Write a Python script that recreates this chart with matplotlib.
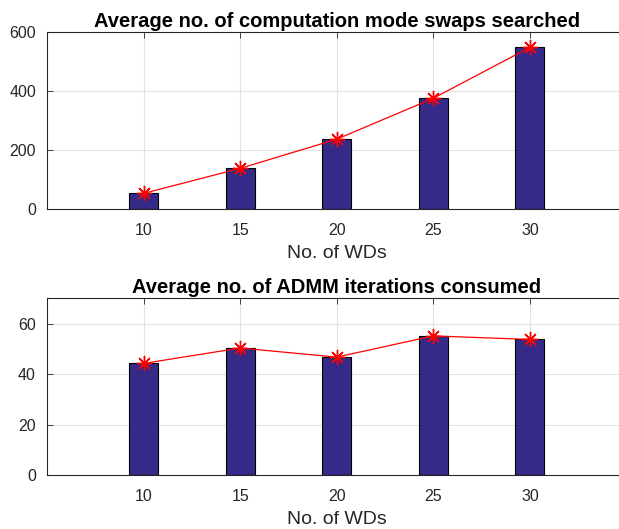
import matplotlib
matplotlib.use("Agg")
import matplotlib.pyplot as plt

plt.rcParams['font.family'] = ['Liberation Sans', 'DejaVu Sans']

wds = [10, 15, 20, 25, 30]
swaps = [53, 138, 237, 376, 549]
admm_iters = [44.2, 50.3, 46.7, 55.1, 53.7]

bar_color = '#352a87'
axis_color = '#262626'

fig = plt.figure(figsize=(6.19, 5.29), dpi=100)
ax_top = fig.add_axes([47 / 619, 1 - 209 / 529, 579.5 / 619, 176.7 / 529])
ax_bot = fig.add_axes([47 / 619, 1 - 475 / 529, 579.5 / 619, 176.7 / 529])


def draw_panel(ax, values, ymax, yticks, title):
    ax.bar(wds, values, width=1.5, color=bar_color, edgecolor='black',
           linewidth=0.8, zorder=2)
    # matlab-style '*' marker: 8 spokes
    ax.plot(wds, values, color='red', linewidth=0.9, marker=(8, 2, 0),
            markersize=11, markeredgewidth=1.0, zorder=3)
    ax.set_xlim(5, 35)
    ax.set_ylim(0, ymax)
    ax.set_xticks(wds)
    ax.set_yticks(yticks)
    ax.grid(True, color='#e3e3e3', linewidth=0.8, zorder=0)
    ax.set_axisbelow(True)
    ax.tick_params(direction='in', length=4, width=0.6, colors=axis_color,
                   labelsize=11.5, top=True, right=True)
    ax.tick_params(axis='x', pad=10)
    ax.tick_params(axis='y', pad=8)
    for spine in ax.spines.values():
        spine.set_color(axis_color)
        spine.set_linewidth(0.8)
    ax.set_xlabel('No. of WDs', fontsize=14, color=axis_color, labelpad=5)
    ax.set_title(title, fontsize=14.5, fontweight='bold', pad=4)


draw_panel(ax_top, swaps, 600, [0, 200, 400, 600],
           'Average no. of computation mode swaps searched')
draw_panel(ax_bot, admm_iters, 70, [0, 20, 40, 60],
           'Average no. of ADMM iterations consumed')

fig.savefig('out.png', dpi=100)
